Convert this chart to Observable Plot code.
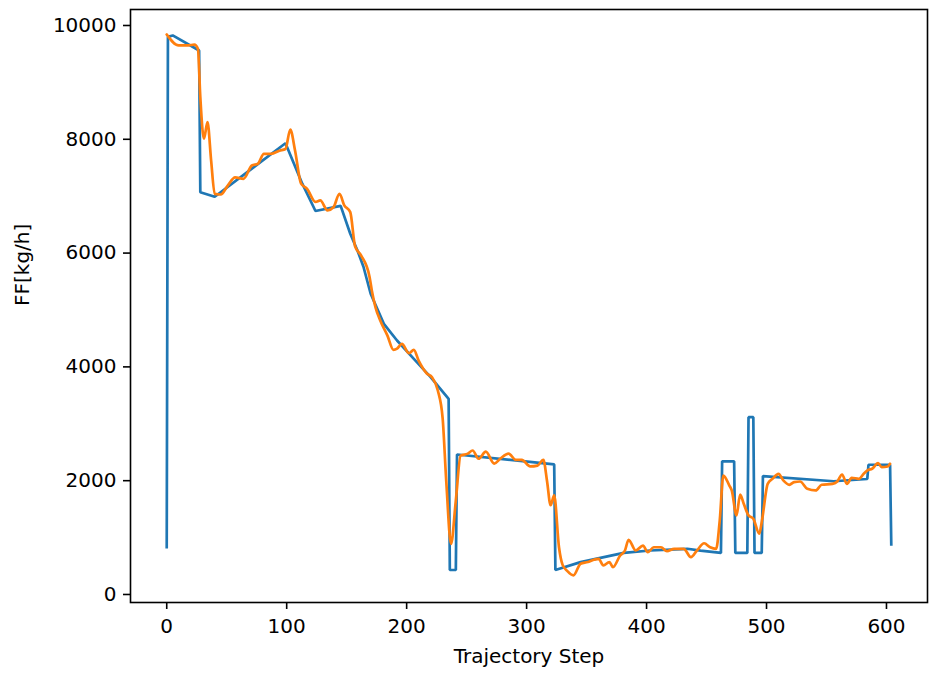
<!DOCTYPE html>
<html>
<head>
<meta charset="utf-8">
<script src="https://cdn.jsdelivr.net/npm/d3@7"></script>
<script src="https://cdn.jsdelivr.net/npm/@observablehq/plot@0.6"></script>
<style>
  html, body { margin: 0; padding: 0; background: white; }
</style>
</head>
<body>
<div id="chart"></div>
<script>
// Blue series (trajectory FF) vertices
const blueSteps = [0, 1, 5, 27, 28, 40, 99, 113, 124, 145, 153, 159, 164, 170, 181, 192, 206, 220, 235, 236, 241, 242, 323, 324, 345, 381, 403, 434, 445, 462, 463, 473, 474, 484, 485, 489, 490, 496, 497, 556, 584, 585, 603, 604];
const blueValues = [830, 9800, 9825, 9560, 7070, 6990, 7930, 7220, 6740, 6830, 6340, 6046, 5760, 5285, 4757, 4464, 4142, 3819, 3439, 430, 430, 2460, 2285, 430, 568, 730, 773, 803, 770, 730, 2340, 2340, 730, 730, 3116, 3116, 730, 730, 2080, 1990, 2030, 2280, 2280, 879];

// Orange series (predicted FF)
const orangeSteps = [0, 10, 18, 23, 26, 28, 31, 34, 37, 40, 45, 51, 57, 64, 71, 76, 81, 87, 94, 99, 103, 107, 112, 117, 124, 128, 134, 139, 144, 148, 153, 157, 162, 169, 171, 174, 178, 184, 189, 192, 196, 202, 206, 210, 217, 221, 226, 230, 233, 237, 241, 245, 251, 255, 260, 266, 273, 278, 285, 291, 296, 303, 309, 314, 317, 320, 323, 327, 330, 334, 339, 345, 351, 356, 360, 364, 369, 372, 378, 382, 385, 391, 397, 401, 406, 412, 417, 423, 431, 437, 442, 448, 453, 458, 461, 464, 469, 471, 475, 478, 481, 485, 489, 494, 496, 501, 505, 510, 514, 519, 523, 528, 534, 541, 546, 555, 559, 563, 567, 571, 577, 581, 585, 588, 593, 596, 601, 603];
const orangeValues = [9842, 9650, 9650, 9665, 9590, 8740, 8010, 8300, 7630, 7040, 7030, 7190, 7330, 7305, 7540, 7570, 7745, 7745, 7800, 7830, 8170, 7800, 7220, 7130, 6900, 6925, 6750, 6805, 7040, 6840, 6720, 6120, 5960, 5590, 5340, 5050, 4815, 4550, 4300, 4320, 4405, 4240, 4300, 4110, 3880, 3820, 3585, 3100, 2000, 890, 1650, 2440, 2475, 2530, 2385, 2510, 2300, 2385, 2475, 2365, 2365, 2250, 2265, 2365, 2000, 1570, 1740, 830, 520, 410, 335, 540, 570, 610, 627, 510, 568, 480, 685, 773, 960, 773, 860, 743, 830, 830, 760, 803, 803, 656, 773, 900, 830, 803, 1300, 2090, 1915, 1830, 1390, 1757, 1595, 1390, 1330, 1067, 1270, 1945, 2033, 2120, 2004, 1928, 1974, 1986, 1857, 1828, 1928, 1945, 1986, 2109, 1945, 2051, 2033, 2121, 2191, 2209, 2308, 2238, 2250, 2297];

const xTicks = [0, 100, 200, 300, 400, 500, 600];
const yTicks = [0, 2000, 4000, 6000, 8000, 10000];
const xLabel = "Trajectory Step";
const yLabel = "FF[kg/h]";

const blue = blueSteps.map((s, i) => ({step: s, ff: blueValues[i]}));
const orange = orangeSteps.map((s, i) => ({step: s, ff: orangeValues[i]}));

const chart = Plot.plot({
  width: 932,
  height: 677,
  marginLeft: 130,
  marginRight: 5,
  marginTop: 9,
  marginBottom: 75,
  style: {fontFamily: "DejaVu Sans", fontSize: "20px", color: "black", background: "white", overflow: "visible"},
  x: {domain: [-30.2, 634.2]},
  y: {domain: [-141, 10281]},
  marks: [
    Plot.line(blue, {x: "step", y: "ff", stroke: "#1f77b4", strokeWidth: 2.7, strokeLinejoin: "miter", strokeLinecap: "square"}),
    Plot.line(orange, {x: "step", y: "ff", stroke: "#ff7f0e", strokeWidth: 2.7, strokeLinejoin: "round", curve: "monotone-x"}),
    Plot.frame({stroke: "black", strokeWidth: 1.6}),
    Plot.axisX({ticks: xTicks, tickSize: 7, tickPadding: 9, strokeWidth: 1.6, fontSize: 20, label: null, tickFormat: d => String(d)}),
    Plot.axisY({ticks: yTicks, tickSize: 7, tickPadding: 7, strokeWidth: 1.6, fontSize: 20, label: null, tickFormat: d => String(d)}),
    Plot.text([xLabel], {text: d => d, frameAnchor: "bottom", dy: 60, fontSize: 20, fill: "black"}),
    Plot.text([yLabel], {text: d => d, frameAnchor: "left", dx: -108, rotate: -90, fontSize: 20, fill: "black"})
  ]
});
document.getElementById("chart").appendChild(chart);
</script>
</body>
</html>
